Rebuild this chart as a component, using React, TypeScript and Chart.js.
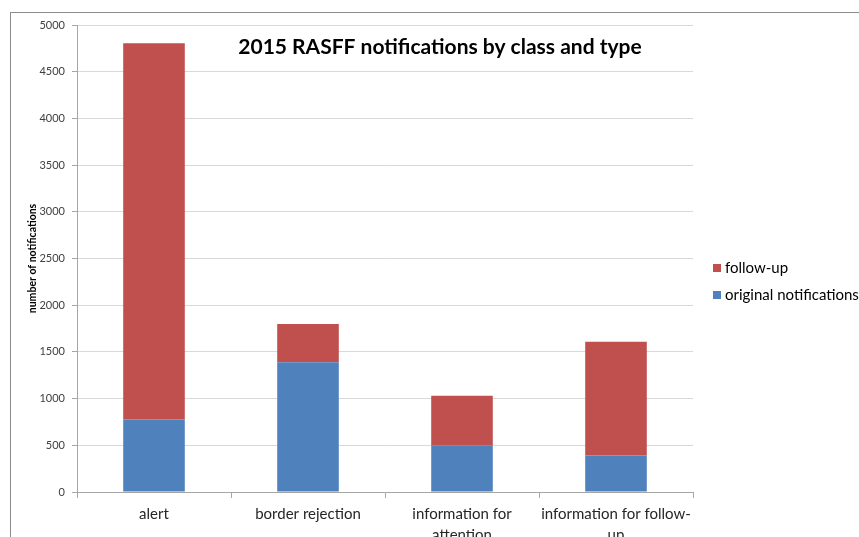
import React, { useEffect, useRef } from "react";
import { Chart, registerables } from "chart.js";

Chart.register(...registerables);

const categories: (string | string[])[] = [
  "alert",
  "border rejection",
  ["information for", "attention"],
  ["information for follow-", "up"],
];
const originalNotifications = [775, 1390, 500, 390];
const followUp = [4030, 410, 530, 1220];
const seriesNames = ["original notifications", "follow-up"];
const titleText = "2015 RASFF notifications by class and type";
const yAxisTitle = "number of notifications";

const FONT = "Lato, 'Open Sans', sans-serif";

const framePlugin = {
  id: "frame",
  beforeDraw(chart: any) {
    const ctx = chart.ctx;
    ctx.save();
    ctx.fillStyle = "#ffffff";
    ctx.fillRect(0, 0, chart.width, chart.height);
    ctx.strokeStyle = "#8c8c8c";
    ctx.lineWidth = 1;
    ctx.strokeRect(10.5, 12.5, chart.width + 20, chart.height + 20);
    ctx.restore();
  },
  afterDraw(chart: any) {
    const ctx = chart.ctx;
    const area = chart.chartArea;
    ctx.save();
    // title
    ctx.fillStyle = "#000000";
    ctx.font = `bold 21px ${FONT}`;
    ctx.textAlign = "center";
    ctx.textBaseline = "middle";
    ctx.fillText(titleText, 440, 47);
    // legend (reverse order like Excel)
    const ds = chart.data.datasets;
    ctx.font = `15px ${FONT}`;
    ctx.textAlign = "left";
    let y = 268;
    for (let i = ds.length - 1; i >= 0; i--) {
      ctx.fillStyle = ds[i].backgroundColor;
      ctx.fillRect(area.right + 20, y - 4, 8, 8);
      ctx.fillStyle = "#000000";
      ctx.fillText(ds[i].label, area.right + 32, y);
      y += 27;
    }
    ctx.restore();
  },
};

export default function App() {
  const ref = useRef<HTMLCanvasElement | null>(null);
  useEffect(() => {
    if (!ref.current) return;
    const chart = new Chart(ref.current, {
      type: "bar",
      data: {
        labels: categories as any,
        datasets: [
          {
            label: seriesNames[0],
            data: originalNotifications,
            backgroundColor: "#4f81bd",
            categoryPercentage: 1,
            barPercentage: 0.4,
          },
          {
            label: seriesNames[1],
            data: followUp,
            backgroundColor: "#c0504d",
            categoryPercentage: 1,
            barPercentage: 0.4,
          },
        ],
      },
      options: {
        animation: false,
        responsive: false,
        maintainAspectRatio: false,
        layout: { padding: { top: 25, right: 166, left: 0, bottom: 0 } },
        plugins: {
          legend: { display: false },
          title: { display: false },
          tooltip: { enabled: false },
        },
        scales: {
          x: {
            stacked: true,
            offset: true,
            grid: {
              offset: true,
              drawOnChartArea: false,
              drawTicks: true,
              tickLength: 6,
              color: "#a6a6a6",
            },
            border: { color: "#a6a6a6" },
            ticks: {
              color: "#262626",
              font: { family: FONT, size: 15, lineHeight: 1.45 },
              padding: 5,
              maxRotation: 0,
              autoSkip: false,
            },
            afterFit(scale: any) {
              scale.height = 45;
            },
          },
          y: {
            stacked: true,
            min: 0,
            max: 5000,
            ticks: {
              stepSize: 500,
              color: "#404040",
              font: { family: FONT, size: 11 },
              padding: 7,
              callback: (v: any) => String(v),
            },
            grid: {
              color: "#d9d9d9",
              tickLength: 5,
              tickColor: "#a6a6a6",
            },
            border: { color: "#a6a6a6" },
            title: {
              display: true,
              text: yAxisTitle,
              color: "#000000",
              font: { family: FONT, size: 10.5, weight: "bold" },
              padding: { top: 26, bottom: 0 },
            },
            afterFit(scale: any) {
              scale.width = 77;
            },
          },
        },
      },
      plugins: [framePlugin],
    });
    return () => chart.destroy();
  }, []);
  return (
    <div style={{ position: "absolute", left: 0, top: 0, width: 859, height: 537 }}>
      <canvas ref={ref} width={859} height={537} style={{ display: "block" }} />
    </div>
  );
}
